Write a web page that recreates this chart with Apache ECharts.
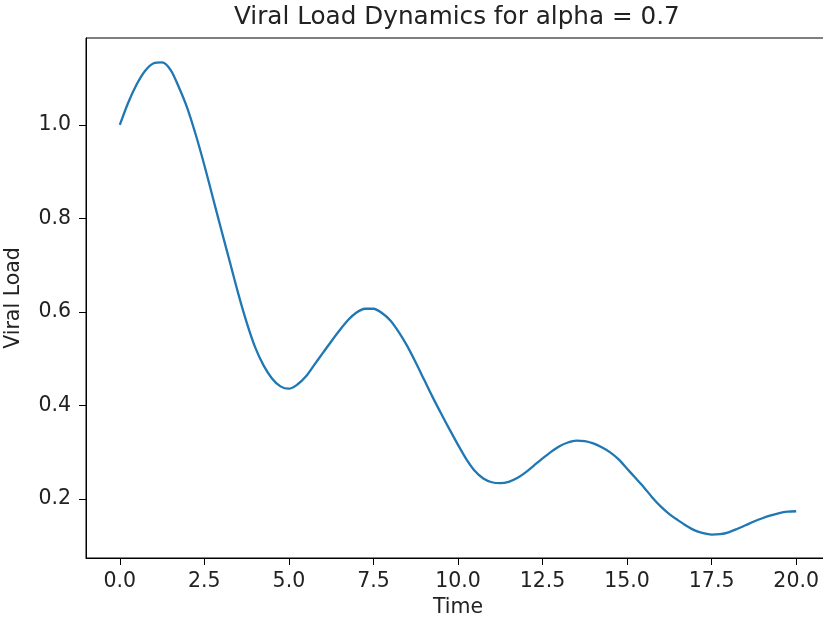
<!DOCTYPE html>
<html>
<head>
<meta charset="utf-8">
<script src="https://cdn.jsdelivr.net/npm/echarts@6/dist/echarts.min.js"></script>
<style>html,body{margin:0;padding:0;background:#fff}#c{width:823px;height:618px}</style>
</head>
<body>
<div id="c"></div>
<script>
const titleText = "Viral Load Dynamics for alpha = 0.7";
const xName = "Time";
const yName = "Viral Load";
const times = [0,0.25,0.5,0.75,1,1.25,1.5,1.75,2,2.25,2.5,2.75,3,3.25,3.5,3.75,4,4.25,4.5,4.75,5,5.25,5.5,5.75,6,6.25,6.5,6.75,7,7.25,7.5,7.75,8,8.25,8.5,8.75,9,9.25,9.5,9.75,10,10.25,10.5,10.75,11,11.25,11.5,11.75,12,12.25,12.5,12.75,13,13.25,13.5,13.75,14,14.25,14.5,14.75,15,15.25,15.5,15.75,16,16.25,16.5,16.75,17,17.25,17.5,17.75,18,18.25,18.5,18.75,19,19.25,19.5,19.75,20];
const viralLoad = [1.000,1.048,1.087,1.116,1.132,1.134,1.118,1.080,1.035,0.978,0.914,0.845,0.776,0.708,0.640,0.578,0.525,0.486,0.458,0.441,0.436,0.445,0.462,0.487,0.512,0.537,0.561,0.583,0.599,0.607,0.607,0.598,0.582,0.557,0.527,0.492,0.455,0.418,0.383,0.349,0.316,0.285,0.260,0.244,0.236,0.234,0.237,0.245,0.257,0.272,0.287,0.301,0.313,0.321,0.325,0.324,0.319,0.311,0.300,0.285,0.265,0.245,0.225,0.203,0.184,0.168,0.155,0.143,0.133,0.127,0.124,0.125,0.129,0.136,0.144,0.152,0.159,0.165,0.170,0.173,0.174];
const xTicks = [0,2.5,5,7.5,10,12.5,15,17.5,20];
const yTicks = [0.2,0.4,0.6,0.8,1.0];

const chart = echarts.init(document.getElementById('c'), null, {renderer:'canvas'});
const font = 'DejaVu Sans';
const txt = '#222';
chart.setOption({
  animation:false,
  backgroundColor:'#fff',
  title:{text:titleText,left:234,top:5,padding:0,
    textStyle:{fontFamily:font,fontSize:24.7,fontWeight:'normal',color:txt}},
  grid:{left:86,top:38,right:-7,bottom:60,show:true,borderColor:'#000',borderWidth:1,
    containLabel:false,outerBoundsMode:'none'},
  xAxis:{type:'value',min:-1,max:21,name:xName,nameLocation:'middle',nameGap:38,
    nameTextStyle:{fontFamily:font,fontSize:20.5,color:txt},
    axisLine:{show:true,onZero:false,lineStyle:{color:'#000',width:1}},
    axisTick:{show:true,length:7,lineStyle:{color:'#000'},customValues:xTicks},
    axisLabel:{fontFamily:font,fontSize:20.5,color:txt,margin:13,customValues:xTicks,formatter:v=>v.toFixed(1)},
    splitLine:{show:false}},
  yAxis:{type:'value',min:0.074,max:1.186,name:yName,nameLocation:'middle',nameGap:62,
    nameTextStyle:{fontFamily:font,fontSize:20.5,color:txt},
    axisLine:{show:true,onZero:false,lineStyle:{color:'#000',width:1}},
    axisTick:{show:true,length:7,lineStyle:{color:'#000'},customValues:yTicks},
    axisLabel:{fontFamily:font,fontSize:20.5,color:txt,margin:15,customValues:yTicks,formatter:v=>v.toFixed(1)},
    splitLine:{show:false}},
  series:[{type:'line',data:times.map((t,i)=>[t,viralLoad[i]]),smooth:0.3,showSymbol:false,
    lineStyle:{color:'#1f77b4',width:2.3}}]
});
</script>
</body>
</html>
